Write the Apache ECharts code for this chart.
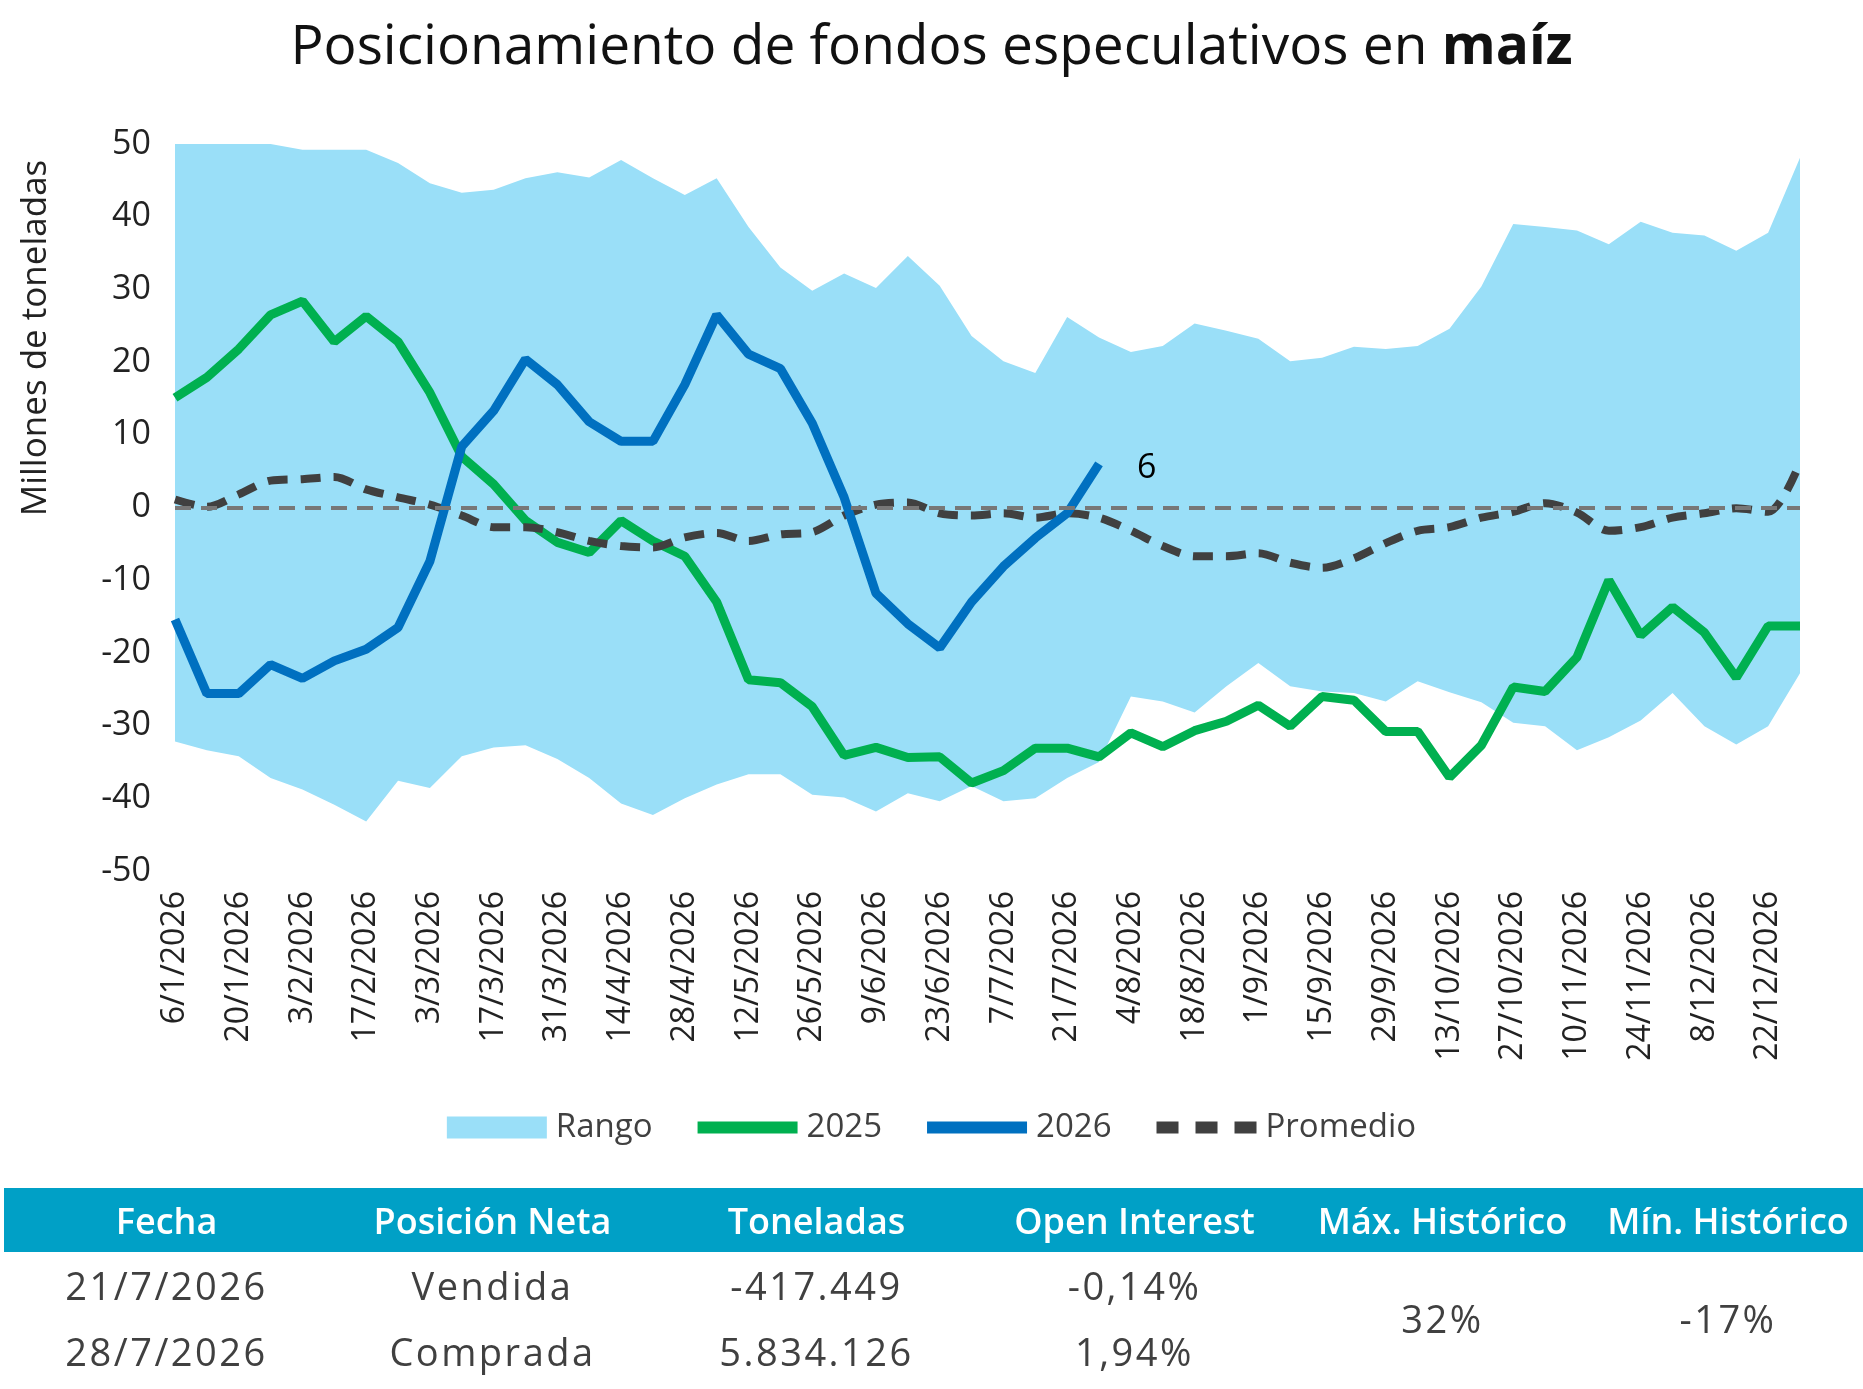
<!DOCTYPE html>
<html><head><meta charset="utf-8">
<script src="https://cdn.jsdelivr.net/npm/echarts@6/dist/echarts.min.js"></script>
<style>
body{margin:0;background:#fff;font-family:"Open Sans",sans-serif;}
#c{position:absolute;left:0;top:0;width:1863px;height:1389px;}
#t{position:absolute;left:4px;top:1188px;width:1859px;border-collapse:collapse;table-layout:fixed;font-family:"Open Sans",sans-serif;}
#t th{background:#00a0c6;color:#fff;font-weight:600;font-size:36px;height:64px;padding:0;}
#t td{color:#404040;font-size:38px;text-align:center;height:66px;padding:0;letter-spacing:2.5px;}
</style></head><body>
<div id="c"></div>
<table id="t">
<colgroup><col style="width:325px"><col style="width:327px"><col style="width:321px"><col style="width:315px"><col style="width:301px"><col style="width:270px"></colgroup>
<tr><th>Fecha</th><th>Posición Neta</th><th>Toneladas</th><th>Open Interest</th><th>Máx. Histórico</th><th>Mín. Histórico</th></tr>
<tr><td>21/7/2026</td><td>Vendida</td><td>-417.449</td><td>-0,14%</td><td rowspan="2">32%</td><td rowspan="2">-17%</td></tr>
<tr><td>28/7/2026</td><td>Comprada</td><td>5.834.126</td><td>1,94%</td></tr>
</table>
<script>
const categories=["6/1/2026","13/1/2026","20/1/2026","27/1/2026","3/2/2026","10/2/2026","17/2/2026","24/2/2026","3/3/2026","10/3/2026","17/3/2026","24/3/2026","31/3/2026","7/4/2026","14/4/2026","21/4/2026","28/4/2026","5/5/2026","12/5/2026","19/5/2026","26/5/2026","2/6/2026","9/6/2026","16/6/2026","23/6/2026","30/6/2026","7/7/2026","14/7/2026","21/7/2026","28/7/2026","4/8/2026","11/8/2026","18/8/2026","25/8/2026","1/9/2026","8/9/2026","15/9/2026","22/9/2026","29/9/2026","6/10/2026","13/10/2026","20/10/2026","27/10/2026","3/11/2026","10/11/2026","17/11/2026","24/11/2026","1/12/2026","8/12/2026","15/12/2026","22/12/2026","29/12/2026"];
const rangeMax=[50,50,50,50,49.2,49.2,49.2,47.4,44.6,43.3,43.7,45.3,46.1,45.4,47.8,45.3,43.0,45.3,38.6,33.0,29.8,32.2,30.2,34.6,30.5,23.6,20.1,18.5,26.2,23.4,21.4,22.2,25.3,24.3,23.2,20.1,20.6,22.1,21.8,22.2,24.6,30.4,39.0,38.6,38.1,36.2,39.3,37.8,37.4,35.3,37.8,48.1];
const rangeMin=[-32.2,-33.4,-34.2,-37.2,-38.8,-40.9,-43.2,-37.6,-38.6,-34.2,-33.0,-32.7,-34.6,-37.2,-40.7,-42.3,-40.0,-38.1,-36.7,-36.7,-39.5,-39.9,-41.8,-39.3,-40.4,-38.3,-40.4,-40.0,-37.2,-35.0,-26.0,-26.7,-28.2,-24.6,-21.4,-24.6,-25.3,-25.5,-26.7,-23.9,-25.4,-26.8,-29.6,-30.1,-33.4,-31.6,-29.3,-25.5,-30.1,-32.6,-30.1,-22.8];
const s2025=[15.1,17.9,21.8,26.5,28.4,22.8,26.3,22.8,15.8,7.0,3.2,-1.8,-4.8,-6.2,-1.8,-4.6,-6.7,-13.0,-23.7,-24.1,-27.4,-34.1,-33.0,-34.4,-34.3,-37.9,-36.2,-33.1,-33.1,-34.3,-31.0,-32.9,-30.7,-29.4,-27.2,-30.1,-26.0,-26.5,-30.8,-30.8,-37.1,-32.7,-24.7,-25.3,-20.6,-10.0,-17.6,-13.7,-17.2,-23.4,-16.3,-16.3];
const s2026=[-15.4,-25.6,-25.6,-21.6,-23.5,-21.1,-19.5,-16.5,-7.4,8.4,13.3,20.4,16.9,11.8,9.1,9.1,16.9,26.5,21.1,19.1,11.6,1.4,-11.8,-16.0,-19.3,-13.0,-8.1,-4.2,-0.8,6];
const promedio=[1.1,0.1,1.8,3.7,3.9,4.2,2.5,1.4,0.4,-1.1,-2.7,-2.7,-3.4,-4.6,-5.3,-5.5,-4.1,-3.5,-4.6,-3.7,-3.4,-1.1,0.4,0.7,-0.8,-1.1,-0.8,-1.4,-0.8,-1.4,-3.2,-5.3,-6.7,-6.7,-6.3,-7.6,-8.3,-7.0,-4.9,-3.2,-2.7,-1.4,-0.6,0.6,-0.7,-3.2,-2.7,-1.4,-0.8,-0.1,-0.6,6.2];
const rangeSpan=rangeMax.map((v,i)=>+(v-rangeMin[i]).toFixed(2));
const chart=echarts.init(document.getElementById('c'));
const ff='"Open Sans",sans-serif';
const lineIcon='path://M0,0h100v12h-100z';
const dashIcon='path://M0,0h22v12h-22zM39,0h22v12h-22zM78,0h22v12h-22z';
chart.setOption({
 animation:false,
 title:{text:'{a|Posicionamiento de fondos especulativos en }{b|maíz}',left:'center',top:16,
  textStyle:{rich:{a:{fontSize:55,fontFamily:ff,color:'#111',fontWeight:'normal'},b:{fontSize:55,fontFamily:ff,color:'#111',fontWeight:'bold'}}}},
 graphic:[{type:'text',x:36,y:338,rotation:Math.PI/2,style:{text:'Millones de toneladas',fontSize:35,fontFamily:ff,fill:'#222',align:'center',verticalAlign:'middle'}}],
 legend:{top:1106,left:'center',itemWidth:100,itemHeight:22,itemGap:45,textStyle:{fontSize:33,fontFamily:ff,color:'#404040',padding:[0,0,0,4]},
  data:[{name:'Rango',icon:'rect'},{name:'2025',icon:lineIcon},{name:'2026',icon:lineIcon},{name:'Promedio',icon:dashIcon}]},
 grid:{left:175,right:63,top:144,bottom:518},
 xAxis:{type:'category',data:categories,boundaryGap:false,axisLine:{show:false},axisTick:{show:false},
  axisLabel:{interval:1,rotate:90,fontSize:32,fontFamily:ff,color:'#222',margin:20}},
 yAxis:{type:'value',min:-50,max:50,interval:10,splitLine:{show:false},axisLine:{show:false},
  axisLabel:{fontSize:34,fontFamily:ff,color:'#222',margin:24}},
 series:[
  {name:'base',type:'line',data:rangeMin,stack:'r',stackStrategy:'all',symbol:'none',lineStyle:{opacity:0},silent:true,z:1},
  {name:'Rango',type:'line',data:rangeSpan,stack:'r',stackStrategy:'all',symbol:'none',lineStyle:{opacity:0},itemStyle:{color:'#9adff8'},areaStyle:{color:'#9adff8',opacity:1},z:1,
   markLine:{silent:true,symbol:'none',label:{show:false},lineStyle:{color:'#777',type:[16,10],width:4},data:[{yAxis:0}]}},
  {name:'2025',type:'line',data:s2025,symbol:'none',itemStyle:{color:'#00b050'},lineStyle:{width:9,color:'#00b050'},z:3},
  {name:'2026',type:'line',data:s2026,symbol:'none',itemStyle:{color:'#0070c0'},lineStyle:{width:9,color:'#0070c0'},z:4,
   endLabel:{show:true,formatter:p=>Math.round(p.value),fontSize:34,fontFamily:ff,color:'#000',offset:[30,4]}},
  {name:'Promedio',type:'line',data:promedio,symbol:'none',smooth:0.3,itemStyle:{color:'#404040'},lineStyle:{width:8,type:[20,13],color:'#404040'},z:3}
 ]
});
</script></body></html>
